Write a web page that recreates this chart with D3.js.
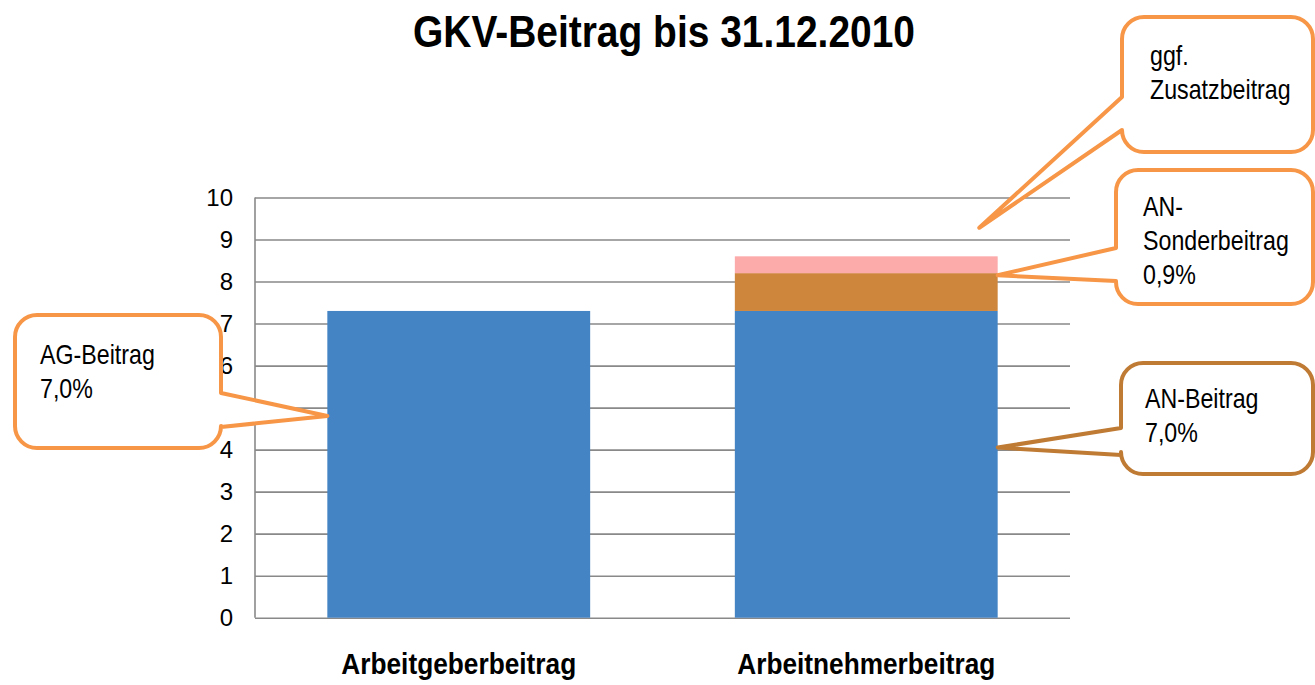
<!DOCTYPE html>
<html>
<head>
<meta charset="utf-8">
<script src="https://d3js.org/d3.v7.min.js"></script>
<style>
  body { margin: 0; padding: 0; background: #fff; }
  svg { display: block; font-family: "Liberation Sans", Arial, sans-serif; }
</style>
</head>
<body>
<div id="chart"></div>
<script>
// chart values
var categories = ["Arbeitgeberbeitrag", "Arbeitnehmerbeitrag"];
var seriesNames = ["Beitrag", "Sonderbeitrag", "Zusatzbeitrag"];
var beitrag = [7.3, 7.3];
var sonderbeitrag = [0, 0.9];
var zusatzbeitrag = [0, 0.4];
var yTicks = [0, 1, 2, 3, 4, 5, 6, 7, 8, 9, 10];
var colors = ["#4484c5", "#ce853c", "#fdaaaa"];

// callout texts, where they point to (category, fraction across bar, value)
var calloutLines = [["AG-Beitrag", "7,0%"], ["ggf.", "Zusatzbeitrag"], ["AN-", "Sonderbeitrag", "0,9%"], ["AN-Beitrag", "7,0%"]];
var calloutCats = [0, 1, 1, 1];
var calloutFrac = [0, 0.93, 1, 1];
var calloutVals = [4.8, 9.28, 8.15, 4.05];

var W = 1315, H = 685;
var svg = d3.select("#chart").append("svg").attr("width", W).attr("height", H);

var x = d3.scaleBand().domain(categories).range([255, 1070]).paddingInner(0.355).paddingOuter(0.1775);
var y = d3.scaleLinear().domain([0, 10]).range([617.7, 197.5]);

// title (narrow bold look)
svg.append("text").attr("x", 664).attr("y", 47).attr("text-anchor", "middle")
  .attr("textLength", 502).attr("lengthAdjust", "spacingAndGlyphs")
  .style("font-size", "45px").style("font-weight", "bold").text("GKV-Beitrag bis 31.12.2010");

// grid + y axis
var yAxis = d3.axisLeft(y).tickValues(yTicks).tickSize(-(1070 - 255)).tickFormat(d3.format("d")).tickPadding(22);
var gy = svg.append("g").attr("transform", "translate(255,0)").call(yAxis);
gy.select(".domain").remove();
gy.selectAll(".tick line").attr("stroke", "#898989").attr("stroke-width", 1.6);
gy.selectAll(".tick text").style("font-size", "24px").attr("fill", "#000").attr("font-family", "Liberation Sans, Arial, sans-serif");
svg.append("line").attr("x1", 255).attr("x2", 255).attr("y1", y(10)).attr("y2", y(0))
  .attr("stroke", "#898989").attr("stroke-width", 1.6);

// stacked bars
var rows = categories.map(function(c, i) {
  return { cat: c, Beitrag: beitrag[i], Sonderbeitrag: sonderbeitrag[i], Zusatzbeitrag: zusatzbeitrag[i] };
});
var stacked = d3.stack().keys(seriesNames)(rows);
svg.selectAll("g.series").data(stacked).enter().append("g").attr("class", "series")
  .attr("fill", function(d, i) { return colors[i]; })
  .selectAll("rect").data(function(d) { return d; }).enter().append("rect")
  .attr("x", function(d) { return x(d.data.cat); })
  .attr("width", x.bandwidth())
  .attr("y", function(d) { return y(d[1]); })
  .attr("height", function(d) { return y(d[0]) - y(d[1]); });

// category labels
svg.selectAll("text.cat").data(categories).enter().append("text").attr("class", "cat")
  .attr("x", function(d) { return x(d) + x.bandwidth() / 2; })
  .attr("y", 674).attr("text-anchor", "middle")
  .attr("textLength", function(d, i) { return i ? 258 : 235; }).attr("lengthAdjust", "spacingAndGlyphs")
  .style("font-size", "29px").style("font-weight", "bold").text(function(d) { return d; });

// callout boxes (layout only)
var boxes = [
  { x0: 15, y0: 315, x1: 221, y1: 448, side: "right", ya: 393, yb: 427, tx: 40, ty: 364, stroke: "#f79646" },
  { x0: 1122, y0: 17, x1: 1313, y1: 152, side: "left", ya: 97, yb: 130, tx: 1150, ty: 65, stroke: "#f79646" },
  { x0: 1116, y0: 170, x1: 1313, y1: 304, side: "left", ya: 248, yb: 281, tx: 1143, ty: 216, stroke: "#f79646" },
  { x0: 1121, y0: 363, x1: 1313, y1: 474, side: "left", ya: 428, yb: 455, tx: 1145, ty: 408, stroke: "#bf7a33" }
];

function calloutPath(b, px, py) {
  var r = 22;
  var p = d3.path();
  p.moveTo(b.x0 + r, b.y0);
  p.lineTo(b.x1 - r, b.y0);
  p.arcTo(b.x1, b.y0, b.x1, b.y0 + r, r);
  if (b.side === "right") {
    p.lineTo(b.x1, b.ya);
    p.lineTo(px, py);
    p.lineTo(b.x1, b.yb);
  }
  p.lineTo(b.x1, b.y1 - r);
  p.arcTo(b.x1, b.y1, b.x1 - r, b.y1, r);
  p.lineTo(b.x0 + r, b.y1);
  p.arcTo(b.x0, b.y1, b.x0, b.y1 - r, r);
  if (b.side === "left") {
    p.lineTo(b.x0, b.yb);
    p.lineTo(px, py);
    p.lineTo(b.x0, b.ya);
  }
  p.lineTo(b.x0, b.y0 + r);
  p.arcTo(b.x0, b.y0, b.x0 + r, b.y0, r);
  p.closePath();
  return p.toString();
}

var callouts = svg.selectAll("g.callout").data(boxes).enter().append("g").attr("class", "callout");
callouts.append("path")
  .attr("d", function(b, i) {
    var c = categories[calloutCats[i]];
    var px = x(c) + x.bandwidth() * calloutFrac[i];
    return calloutPath(b, px, y(calloutVals[i]));
  })
  .attr("fill", "#fff").attr("stroke", function(b) { return b.stroke; })
  .attr("stroke-width", 4).attr("stroke-linejoin", "round");
callouts.each(function(b, i) {
  var t = d3.select(this).append("text").style("font-size", "27px")
    .attr("transform", "translate(" + b.tx + ",0) scale(0.86,1)");
  t.selectAll("tspan").data(calloutLines[i]).enter().append("tspan")
    .attr("x", 0).attr("y", function(d, j) { return b.ty + j * 34; }).text(function(d) { return d; });
});
</script>
</body>
</html>
